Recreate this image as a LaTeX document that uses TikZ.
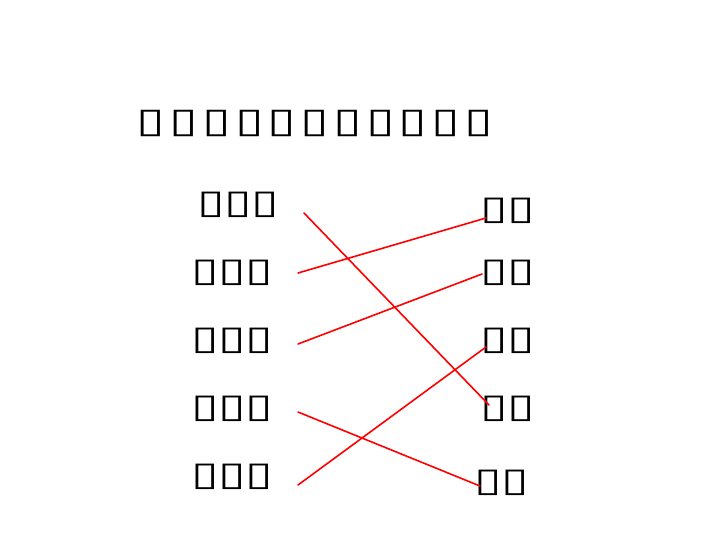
\documentclass[tikz,border=0pt]{standalone}
\usepackage{fontspec}
\newfontfamily\boxfont[FakeStretch=1.5,LetterSpace=-1]{DejaVu Sans}
\newfontfamily\headfont[FakeStretch=1.5,LetterSpace=12]{DejaVu Sans}
\usetikzlibrary{calc,positioning}

\begin{document}
\begin{tikzpicture}[x=0.75pt,y=-0.75pt,line join=round,line cap=round]
\useasboundingbox (0,0) rectangle (720,540);
\tikzset{lab/.style={inner sep=0pt,font=\boxfont\fontsize{25}{25}\selectfont},
         head/.style={inner sep=0pt,font=\headfont\fontsize{26}{26}\selectfont},
         link/.style={red,line width=1.2pt}}
\node[head] (title) at (315,123) {▯▯▯▯▯▯▯▯▯▯▯};
\foreach \i/\x/\y in {1/238/205,2/232/273,3/232/341,4/232/409,5/232/477}{\node[lab] (l\i) at (\x,\y) {▯▯▯};}
\foreach \i/\x/\y in {1/508/211,2/508/273,3/508/341,4/508/409,5/502/483}{\node[lab] (r\i) at (\x,\y) {▯▯};}
\draw[link] ($(l1.center)+(66,8)$) -- ($(r4.center)+(-19,-4)$);
\draw[link] ($(l2.center)+(66,0)$) -- ($(r1.center)+(-22,7)$);
\draw[link] ($(l3.center)+(66,3)$) -- ($(r2.center)+(-26,1)$);
\draw[link] ($(l4.center)+(66,3)$) -- ($(r5.center)+(-22,3)$);
\draw[link] ($(l5.center)+(66,8)$) -- ($(r3.center)+(-22,6)$);
\end{tikzpicture}
\end{document}
